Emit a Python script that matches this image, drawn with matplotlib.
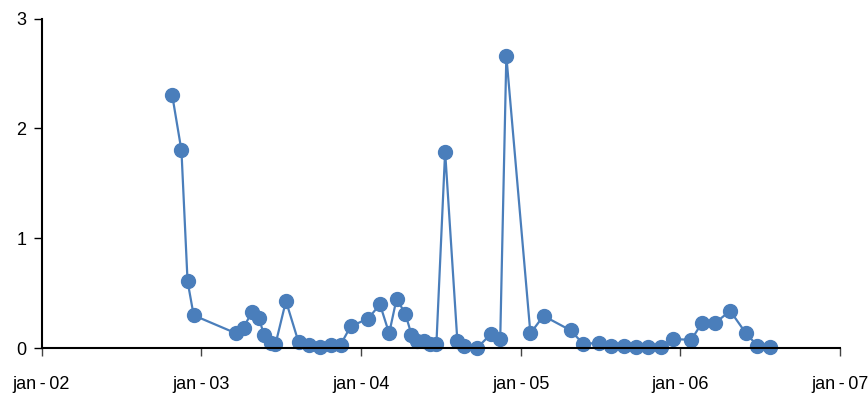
import numpy as np
import pandas as pd
import matplotlib
matplotlib.use("Agg")
import matplotlib.pyplot as plt
import matplotlib.dates as mdates

# dates and values
dates = ["2002-10-27", "2002-11-17", "2002-12-01", "2002-12-15",
         "2003-03-22", "2003-04-08", "2003-04-27", "2003-05-13", "2003-05-25",
         "2003-06-09", "2003-06-20", "2003-07-14", "2003-08-12", "2003-09-05",
         "2003-09-29", "2003-10-26", "2003-11-16", "2003-12-09",
         "2004-01-18", "2004-02-14", "2004-03-06", "2004-03-23", "2004-04-12",
         "2004-04-26", "2004-05-09", "2004-05-25", "2004-06-07", "2004-06-22",
         "2004-07-12", "2004-08-09", "2004-08-25", "2004-09-24", "2004-10-24",
         "2004-11-15", "2004-11-29",
         "2005-01-23", "2005-02-22", "2005-04-25", "2005-05-24", "2005-06-28",
         "2005-07-26", "2005-08-24", "2005-09-22", "2005-10-20", "2005-11-17",
         "2005-12-15",
         "2006-01-26", "2006-02-19", "2006-03-21", "2006-04-25", "2006-05-31",
         "2006-06-26", "2006-07-25"]
values = [2.30, 1.80, 0.61, 0.30,
          0.136, 0.187, 0.33, 0.28, 0.118,
          0.05, 0.036, 0.43, 0.054, 0.03,
          0.012, 0.03, 0.033, 0.20,
          0.27, 0.40, 0.136, 0.45, 0.315,
          0.125, 0.07, 0.07, 0.035, 0.035,
          1.79, 0.066, 0.025, 0.007, 0.127,
          0.083, 2.66,
          0.136, 0.295, 0.163, 0.039, 0.05,
          0.024, 0.024, 0.009, 0.012, 0.009,
          0.084,
          0.077, 0.23, 0.23, 0.34, 0.136,
          0.024, 0.015]

tick_dates = ["2002-01-01", "2003-01-01", "2004-01-01", "2005-01-01", "2006-01-01", "2007-01-01"]
tick_labels = ["jan\u2009-\u200902", "jan\u2009-\u200903", "jan\u2009-\u200904",
               "jan\u2009-\u200905", "jan\u2009-\u200906", "jan\u2009-\u200907"]

color = "#4a7ebb"
plt.rcParams["font.family"] = ["Liberation Sans", "DejaVu Sans"]

fig = plt.figure(figsize=(8.68, 3.94), dpi=100)
ax = fig.add_axes([41.5/868, 1-348.3/394, (840-41.5)/868, (348.3-18.5)/394])

x = pd.to_datetime(dates)
ax.plot(x, values, color=color, lw=1.6, marker="o", ms=10, mfc=color, mec=color, clip_on=False)

ticks = pd.to_datetime(tick_dates)
ax.set_xlim(ticks[0], ticks[-1])
ax.set_ylim(0, 3)
ax.set_xticks(ticks)
ax.set_xticklabels(tick_labels)
ax.set_yticks([0, 1, 2, 3])

for s in ["top", "right"]:
    ax.spines[s].set_visible(False)
ax.spines["left"].set_linewidth(1.5)
ax.spines["bottom"].set_linewidth(1.5)

ax.tick_params(axis="x", length=6, width=1, color="#444444", pad=14, labelsize=13)
ax.tick_params(axis="y", length=6, width=1, color="black", pad=5, labelsize=13)

fig.savefig("out.png", dpi=100)
